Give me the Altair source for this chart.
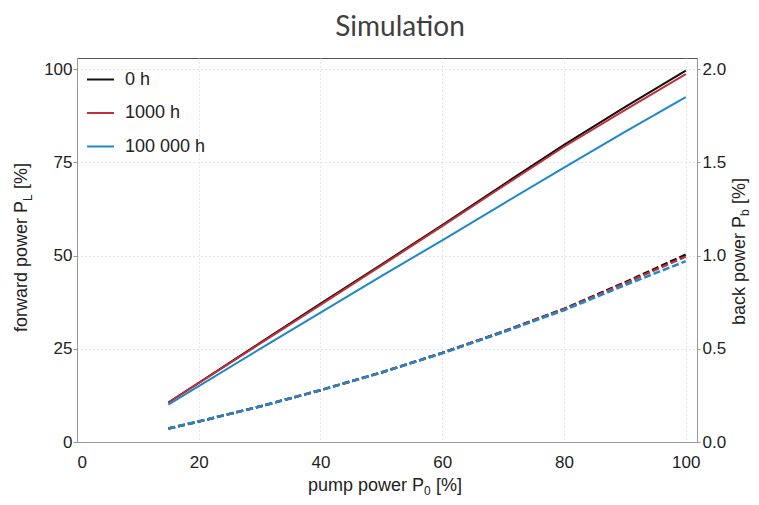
import altair as alt
import pandas as pd

FONT = "Liberation Sans"

# ---- data ----
pump_power = [15, 20, 30, 40, 50, 60, 70, 80, 90, 100]
series_names = ["0 h", "1000 h", "100 000 h"]
series_colors = ["#111111", "#c0303a", "#1f88c9"]

forward_0h = [10.6, 15.9, 26.5, 37.1, 47.6, 58.2, 69.0, 79.7, 89.8, 99.6]
forward_1000h = [10.6, 15.8, 26.3, 36.8, 47.3, 57.9, 68.6, 79.2, 89.0, 98.7]
forward_100000h = [10.0, 15.0, 24.9, 34.7, 44.5, 54.1, 63.9, 73.6, 83.2, 92.5]

back_0h = [0.072, 0.110, 0.190, 0.278, 0.373, 0.478, 0.592, 0.714, 0.856, 1.005]
back_1000h = [0.072, 0.110, 0.190, 0.278, 0.373, 0.478, 0.592, 0.712, 0.851, 0.995]
back_100000h = [0.072, 0.110, 0.190, 0.278, 0.372, 0.476, 0.589, 0.707, 0.841, 0.970]

x_ticks = [0, 20, 40, 60, 80, 100]
left_ticks = [0, 25, 50, 75, 100]
right_ticks = [0.0, 0.5, 1.0, 1.5, 2.0]

rows = []
for name, fw, bk in zip(series_names,
                        [forward_0h, forward_1000h, forward_100000h],
                        [back_0h, back_1000h, back_100000h]):
    for p, f, b in zip(pump_power, fw, bk):
        rows.append({"series": name, "pump": p, "forward": f, "back": b})
df = pd.DataFrame(rows)

x_enc = alt.X(
    "pump:Q",
    scale=alt.Scale(domain=[0, 101.85], nice=False),
    axis=alt.Axis(values=x_ticks, title=None, grid=True, ticks=False,
                  tickSize=0, labelPadding=12, format="d"),
)

color_scale = alt.Scale(domain=series_names, range=series_colors)

solid = alt.Chart(df).mark_line(strokeWidth=2).encode(
    x=x_enc,
    y=alt.Y(
        "forward:Q",
        scale=alt.Scale(domain=[0, 103], nice=False),
        axis=alt.Axis(values=left_ticks, title=None, orient="left", grid=True,
                      tickSize=4, labelPadding=1, format="d"),
    ),
    color=alt.Color(
        "series:N",
        scale=color_scale,
        sort=series_names,
        legend=alt.Legend(
            title=None, orient="none", legendX=9, legendY=7,
            symbolType="stroke", symbolSize=729, symbolStrokeWidth=2,
            labelFontSize=18, labelFont=FONT, labelColor="#222",
            rowPadding=9.5, labelOffset=10, padding=0,
        ),
    ),
)

dashed = alt.Chart(df).mark_line(strokeWidth=2.5, strokeDash=[7, 3]).encode(
    x=x_enc,
    y=alt.Y(
        "back:Q",
        scale=alt.Scale(domain=[0, 2.06], nice=False),
        axis=alt.Axis(values=right_ticks, title=None, orient="right", grid=False,
                      tickSize=3, labelPadding=2, format=".1f"),
    ),
    color=alt.Color("series:N", scale=color_scale, sort=series_names, legend=None),
)


def label(txt, x, y, size=18, angle=0, align="left", font=FONT, color="#222"):
    return alt.Chart(alt.Data(values=[{}])).mark_text(
        text=txt, fontSize=size, angle=angle, align=align,
        baseline="alphabetic", font=font, color=color,
    ).encode(x=alt.value(x), y=alt.value(y))


titles = [
    # chart title
    label("Simulation", 323, -22, size=28, align="center", font="Lato", color="#404040"),
    # left axis title: forward power P_L [%]
    label("forward power P", -50, 143, angle=270, align="right"),
    label("L", -45, 143, size=12, angle=270),
    label("[%]", -50, 131, angle=270),
    # right axis title: back power P_b [%]
    label("back power P", 668, 158, angle=270, align="right"),
    label("b", 672, 158, size=12, angle=270),
    label("[%]", 668, 146, angle=270),
    # x axis title: pump power P_0 [%]
    label("pump power P", 347, 433, align="right"),
    label("0", 347, 437, size=12),
    label("[%]", 359, 433),
]

lines = alt.layer(solid, dashed).resolve_scale(y="independent")

chart = alt.layer(lines, *titles).properties(
    width=620,
    height=384,
    autosize=alt.AutoSizeParams(type="none"),
    padding={"left": 69, "top": 50, "right": 54, "bottom": 55},
).configure_view(
    stroke="#555555", strokeWidth=1
).configure_axis(
    labelFont=FONT, labelFontSize=17, labelColor="#222",
    domainColor="#999999", tickColor="#999999",
    gridColor="#c8c8c8", gridDash=[1, 3], gridWidth=1,
)

chart.save("out.html", embed_options={"renderer": "svg", "actions": False})
